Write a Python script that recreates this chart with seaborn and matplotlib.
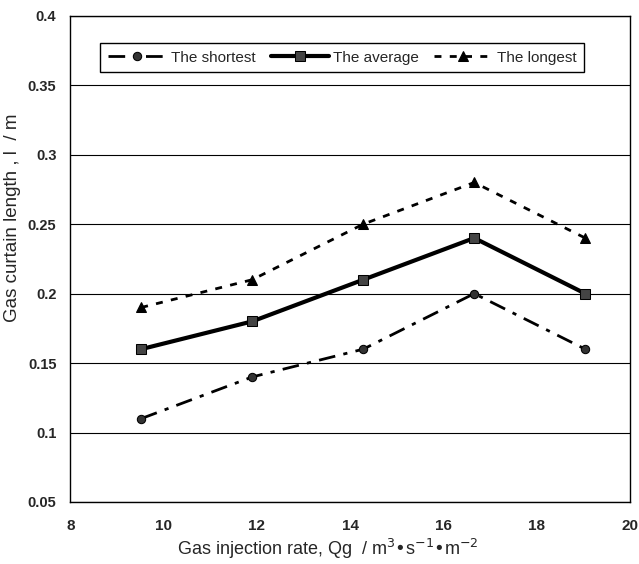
import matplotlib
matplotlib.use("Agg")
import matplotlib.pyplot as plt
import seaborn as sns
import pandas as pd

# Data
gas_rate = [9.52, 11.9, 14.28, 16.66, 19.04]
shortest = [0.11, 0.14, 0.16, 0.20, 0.16]
average = [0.16, 0.18, 0.21, 0.24, 0.20]
longest = [0.19, 0.21, 0.25, 0.28, 0.24]
series_names = ["The shortest", "The average", "The longest"]
x_ticks = [8, 10, 12, 14, 16, 18, 20]
y_ticks = [0.05, 0.1, 0.15, 0.2, 0.25, 0.3, 0.35, 0.4]
y_tick_labels = ["0.05", "0.1", "0.15", "0.2", "0.25", "0.3", "0.35", "0.4"]

sns.set_theme(style="white")
plt.rcParams['font.family'] = ['Liberation Sans', 'DejaVu Sans']

fig = plt.figure(figsize=(6.39, 5.64), dpi=100)
ax = fig.add_axes([0.110, 0.110, 0.876, 0.862])

df = pd.DataFrame({"x": gas_rate, "shortest": shortest,
                   "average": average, "longest": longest})

sns.lineplot(data=df, x="x", y="shortest", ax=ax, color="black", lw=2,
             marker="o", markersize=6, markerfacecolor="#333333",
             markeredgecolor="black", label=series_names[0])
ax.lines[-1].set_dashes((6, 3, 1.5, 3))
sns.lineplot(data=df, x="x", y="average", ax=ax, color="black", lw=3,
             marker="s", markersize=6.5, markerfacecolor="#444444",
             markeredgecolor="black", label=series_names[1])
sns.lineplot(data=df, x="x", y="longest", ax=ax, color="black", lw=2,
             marker="^", markersize=6.5, markerfacecolor="black",
             markeredgecolor="black", label=series_names[2])
ax.lines[-1].set_dashes((2.5, 3))

ax.set_xlim(8, 20)
ax.set_ylim(0.05, 0.4)
ax.set_xticks(x_ticks)
ax.set_xticklabels([str(t) for t in x_ticks], fontsize=11, fontweight="bold")
ax.set_yticks(y_ticks)
ax.set_yticklabels(y_tick_labels, fontsize=10.5, fontweight="bold")
ax.tick_params(axis="x", direction="in", length=4, width=0.8, color="black", pad=12)
ax.tick_params(axis="y", length=0, pad=10)
ax.grid(axis="y", color="black", lw=0.8)
ax.grid(axis="x", visible=False)
for s in ax.spines.values():
    s.set_color("black")
    s.set_linewidth(1.0)

ax.set_xlabel(r"Gas injection rate, Qg  / m$^{3}$•s$^{-1}$•m$^{-2}$",
              fontsize=13)
ax.xaxis.set_label_coords(0.46, -0.072)
ax.set_ylabel("Gas curtain length , l  / m", fontsize=13.5)
ax.yaxis.set_label_coords(-0.088, 0.585)

leg = ax.legend(loc="upper left", bbox_to_anchor=(0.04, 0.96), ncol=3,
                frameon=True, fancybox=False, edgecolor="black",
                fontsize=11, handlelength=3.8, handletextpad=0.3,
                columnspacing=1.0, borderpad=0.5, framealpha=1)
leg.get_frame().set_linewidth(1.0)

fig.savefig("out.png", dpi=100)
